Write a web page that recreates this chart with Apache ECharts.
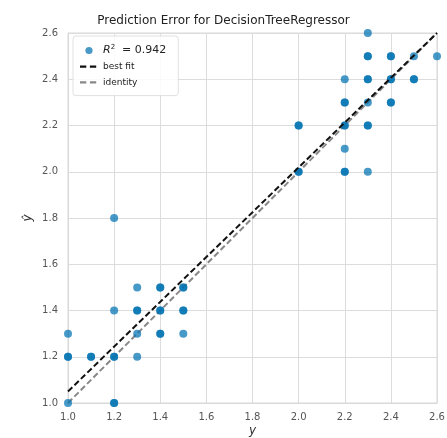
<!DOCTYPE html>
<html><head><meta charset="utf-8">
<script src="https://cdn.jsdelivr.net/npm/echarts@6/dist/echarts.min.js"></script>
<style>html,body{margin:0;padding:0;background:#fff}#c{width:447px;height:438px}</style>
</head><body><div id="c"></div>
<script>
// actual y values
var actual = [2.3, 2.3, 2.3, 2.4, 2.4, 2.5, 2.6, 2.2, 2.3, 2.3, 2.4, 2.4, 2.5, 2.5, 2.2, 2.2, 2.3, 2.4, 2.4, 2.0, 2.0, 2.2, 2.2, 2.3, 2.3, 2.2, 2.0, 2.0, 2.2, 2.2, 2.3,
  1.2, 1.3, 1.4, 1.4, 1.5, 1.5, 1.2, 1.3, 1.3, 1.4, 1.4, 1.5, 1.5, 1.0, 1.3, 1.4, 1.4, 1.5, 1.0, 1.0, 1.1, 1.1, 1.2, 1.2, 1.3, 1.0, 1.2, 1.2];
// predicted y values
var predicted = [2.6, 2.5, 2.5, 2.5, 2.5, 2.5, 2.5, 2.4, 2.4, 2.4, 2.4, 2.4, 2.4, 2.4, 2.3, 2.3, 2.3, 2.3, 2.3, 2.2, 2.2, 2.2, 2.2, 2.2, 2.2, 2.1, 2.0, 2.0, 2.0, 2.0, 2.0,
  1.8, 1.5, 1.5, 1.5, 1.5, 1.5, 1.4, 1.4, 1.4, 1.4, 1.4, 1.4, 1.4, 1.3, 1.3, 1.3, 1.3, 1.3, 1.2, 1.2, 1.2, 1.2, 1.2, 1.2, 1.2, 1.0, 1.0, 1.0];
var bestFitX = [1.0, 2.6];
var bestFitY = [1.05, 2.6];
var identityX = [1.0, 2.6];
var identityY = [1.0, 2.6];
var axisTicks = [1.0, 1.2, 1.4, 1.6, 1.8, 2.0, 2.2, 2.4, 2.6];
var r2Label = 'R\u00B2 = 0.942';

var pts = actual.map(function (v, i) { return [v, predicted[i]]; });
var dashIcon = 'path://M0,0 M20,12 M0,5H7V7.5H0Z M11,5H18V7.5H11Z';
var dotIcon = 'path://M0,0 M20,12 M6,6 A4,4 0 1 1 14,6 A4,4 0 1 1 6,6 Z';
var chart = echarts.init(document.getElementById('c'));
var axisCommon = {
  type: 'value', min: axisTicks[0], max: axisTicks[axisTicks.length - 1], interval: 0.2,
  axisLine: { show: true, lineStyle: { color: '#d9d9d9', width: 1 } },
  axisTick: { show: false },
  splitLine: { show: true, lineStyle: { color: '#dcdcdc', width: 1 } },
  axisLabel: { color: '#555', fontSize: 10, fontFamily: 'DejaVu Sans', formatter: function (v) { return v.toFixed(1); } }
};
chart.setOption({
  backgroundColor: '#fff',
  animation: false,
  title: { text: 'Prediction Error for DecisionTreeRegressor', left: 'center', top: 10,
    textStyle: { fontSize: 12, fontWeight: 'normal', color: '#222', fontFamily: 'DejaVu Sans' } },
  grid: { left: 68, right: 10, top: 33, bottom: 35, show: true, borderColor: '#d9d9d9', borderWidth: 1,
    containLabel: false, outerBoundsMode: 'none' },
  xAxis: Object.assign({}, axisCommon, {
    name: 'y', nameLocation: 'middle', nameGap: 22, nameMoveOverlap: false,
    nameTextStyle: { fontSize: 12, fontStyle: 'italic', color: '#333', fontFamily: 'DejaVu Sans' },
    axisLabel: Object.assign({}, axisCommon.axisLabel, { margin: 9 })
  }),
  yAxis: Object.assign({}, axisCommon, {
    name: '\u0177', nameLocation: 'middle', nameGap: 34, nameRotate: 90, nameMoveOverlap: false,
    nameTextStyle: { fontSize: 12, fontStyle: 'italic', color: '#333', fontFamily: 'DejaVu Sans' },
    axisLabel: Object.assign({}, axisCommon.axisLabel, { margin: 10 })
  }),
  legend: {
    orient: 'vertical', left: 73, top: 36,
    backgroundColor: 'rgba(255,255,255,0.85)', borderColor: '#e0e0e0', borderWidth: 1, borderRadius: 3,
    padding: [8, 12, 8, 7], itemGap: 5, itemWidth: 18, itemHeight: 11,
    textStyle: { fontSize: 9, color: '#222', fontFamily: 'DejaVu Sans',
      rich: { r: { fontSize: 11, fontStyle: 'italic', color: '#222', fontFamily: 'DejaVu Sans' },
              s: { fontSize: 7, verticalAlign: 'top', color: '#222', fontFamily: 'DejaVu Sans', padding: [0, 0, 6, 0] },
              t: { fontSize: 11, color: '#222', fontFamily: 'DejaVu Sans' } } },
    formatter: function (n) { return n === r2Label ? '{r|R}{s|2}{t|  = 0.942}' : n; },
    data: [
      { name: r2Label, icon: dotIcon },
      { name: 'best fit', icon: dashIcon }, { name: 'identity', icon: dashIcon }
    ]
  },
  series: [
    { name: r2Label, type: 'scatter', data: pts, symbolSize: 8, clip: true,
      itemStyle: { color: '#0072B2', opacity: 0.72 } },
    { name: 'best fit', type: 'line', data: bestFitX.map(function (v, i) { return [v, bestFitY[i]]; }),
      showSymbol: false, symbol: 'none', lineStyle: { color: '#111', width: 2, type: [6, 3] }, itemStyle: { color: '#111' }, z: 3 },
    { name: 'identity', type: 'line', data: identityX.map(function (v, i) { return [v, identityY[i]]; }),
      showSymbol: false, symbol: 'none', lineStyle: { color: '#888', width: 2, type: [6, 3] }, itemStyle: { color: '#888' }, z: 2 }
  ]
});
</script></body></html>
